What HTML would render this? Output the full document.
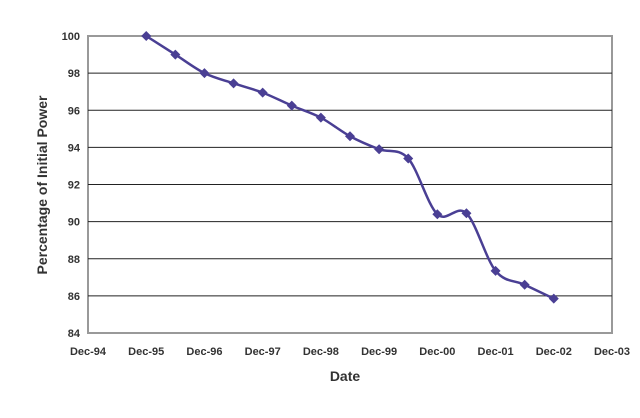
<!DOCTYPE html>
<html><head><meta charset="utf-8"><style>
body{margin:0;background:#fff;width:640px;height:413px;overflow:hidden}
text{font-family:"Liberation Sans",Arial,sans-serif;font-weight:bold;fill:#333}
</style></head><body>
<svg id="chart" width="640" height="413">
<rect x="88" y="36" width="524" height="297" fill="#fff" stroke="#999" stroke-width="2"/>
<g id="grid"></g><g id="ticks"></g>
<path id="line" fill="none" stroke="#4a3f94" stroke-width="2.5"/>
<g id="pts"></g>
<text x="345" y="381" font-size="14" text-anchor="middle">Date</text>
<text transform="translate(47,185) rotate(-90)" font-size="14" text-anchor="middle">Percentage of Initial Power</text>
</svg>
<script>
const xLabels=["Dec-94","Dec-95","Dec-96","Dec-97","Dec-98","Dec-99","Dec-00","Dec-01","Dec-02","Dec-03"];
const yTicks=[84,86,88,90,92,94,96,98,100];
const years=[1,1.5,2,2.5,3,3.5,4,4.5,5,5.5,6,6.5,7,7.5,8];
const values=[100,99,98,97.45,96.95,96.25,95.6,94.6,93.9,93.4,90.4,90.45,87.35,86.6,85.85];
const NS="http://www.w3.org/2000/svg";
const X=t=>88+t*(524/9), Y=v=>36+(100-v)*(297/16);
const grid=document.getElementById('grid'),ticks=document.getElementById('ticks');
yTicks.forEach(v=>{
 if(v>84&&v<100){const l=document.createElementNS(NS,'line');
 l.setAttribute('x1',88);l.setAttribute('x2',612);l.setAttribute('y1',Y(v));l.setAttribute('y2',Y(v));
 l.setAttribute('stroke','#222');l.setAttribute('stroke-width','1');
 
 
 grid.appendChild(l);}
 const t=document.createElementNS(NS,'text');t.setAttribute('x',80);t.setAttribute('y',Y(v)+4);
 t.setAttribute('text-anchor','end');t.setAttribute('font-size','11');t.textContent=v;
 
 
 ticks.appendChild(t);
});
xLabels.forEach((s,i)=>{
 const t=document.createElementNS(NS,'text');t.setAttribute('x',X(i));t.setAttribute('y',355);
 t.setAttribute('text-anchor','middle');t.setAttribute('font-size','11');t.textContent=s;
 
 
 ticks.appendChild(t);
});
const P=years.map((y,i)=>[X(y),Y(values[i])]);
let d=`M${P[0][0]},${P[0][1]}`;
for(let i=0;i<P.length-1;i++){
 const p0=P[Math.max(0,i-1)],p1=P[i],p2=P[i+1],p3=P[Math.min(P.length-1,i+2)];
 const c1=[p1[0]+(p2[0]-p0[0])/6,p1[1]+(p2[1]-p0[1])/6],c2=[p2[0]-(p3[0]-p1[0])/6,p2[1]-(p3[1]-p1[1])/6];
 d+=` C${c1[0]},${c1[1]} ${c2[0]},${c2[1]} ${p2[0]},${p2[1]}`;
}
document.getElementById('line').setAttribute('d',d);
const pts=document.getElementById('pts');
P.forEach(p=>{
 const m=document.createElementNS(NS,'path');
 m.setAttribute('d',`M${p[0]},${p[1]-5}L${p[0]+5},${p[1]}L${p[0]},${p[1]+5}L${p[0]-5},${p[1]}Z`);
 m.setAttribute('fill','#4a3f94');
 
 
 pts.appendChild(m);
});
</script>
</body></html>
